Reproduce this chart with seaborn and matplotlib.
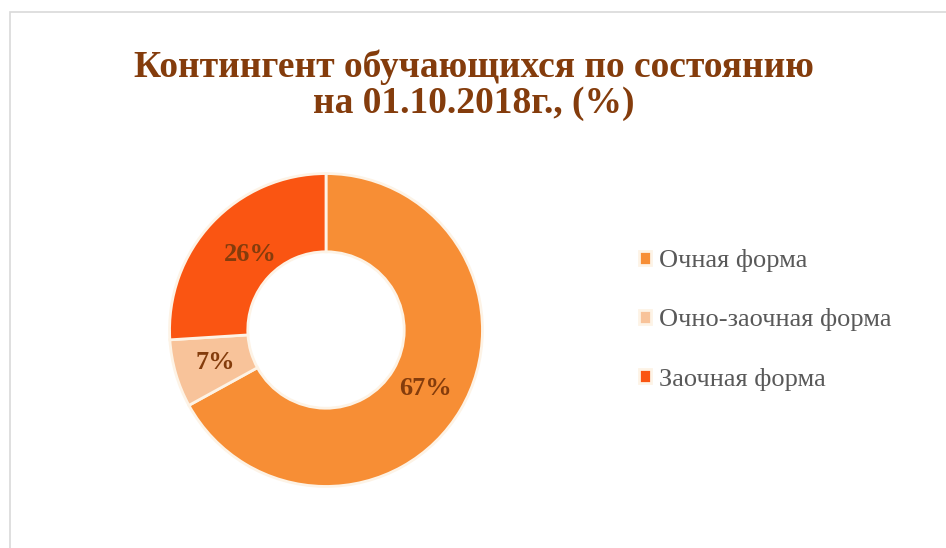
import matplotlib
matplotlib.use('Agg')
import matplotlib.pyplot as plt
import matplotlib.patches as mpatches
import numpy as np
import seaborn as sns

sns.set_theme(style='white')
plt.rcParams['font.family'] = ['Liberation Serif', 'DejaVu Serif']

categories = ['Очная форма', 'Очно-заочная форма', 'Заочная форма']
values = [67, 7, 26]
colors = ['#F78E35', '#F8C39A', '#FA5512']
title = 'Контингент обучающихся по состоянию\nна 01.10.2018г., (%)'

fig = plt.figure(figsize=(9.46, 5.48), dpi=100)

# light frame like the excel chart area
fig.patches.append(mpatches.Rectangle((10 / 946, -0.02), 1.0, (548 - 12) / 548 + 0.02,
                                      transform=fig.transFigure, fill=False,
                                      edgecolor='#D9D9D9', linewidth=1.2))

fig.text(474 / 946, 1 - 85 / 548, title, ha='center', va='center',
         fontsize=27, fontweight='bold', color='#843C0C', linespacing=1.02)

ax = fig.add_axes([168 / 946, 60 / 548, 316 / 946, 316 / 548])
wedges, texts, autotexts = ax.pie(values, colors=colors, startangle=90, counterclock=False,
                                  autopct='%1.0f%%', pctdistance=0.74,
                                  wedgeprops=dict(width=0.5, edgecolor='#FDF3E6', linewidth=2),
                                  textprops=dict(fontsize=19, fontweight='bold', color='#843C0C'))
# the small 26% label sits a bit closer to the hole
w = wedges[2]
ang = np.deg2rad((w.theta1 + w.theta2) / 2)
autotexts[2].set_position((0.66 * np.cos(ang), 0.66 * np.sin(ang) + 0.03))
ax.set_xlim(-1.01, 1.01)
ax.set_ylim(-1.01, 1.01)
ax.set_aspect('equal')
ax.axis('off')

fig.legend(wedges, categories, loc='center left', bbox_to_anchor=(615 / 946, 1 - 320 / 548),
           frameon=False, fontsize=19, labelcolor='#595959', labelspacing=1.37,
           handlelength=0.45, handleheight=0.45, handletextpad=0.3)

fig.savefig('out.png', dpi=100, facecolor='white')
